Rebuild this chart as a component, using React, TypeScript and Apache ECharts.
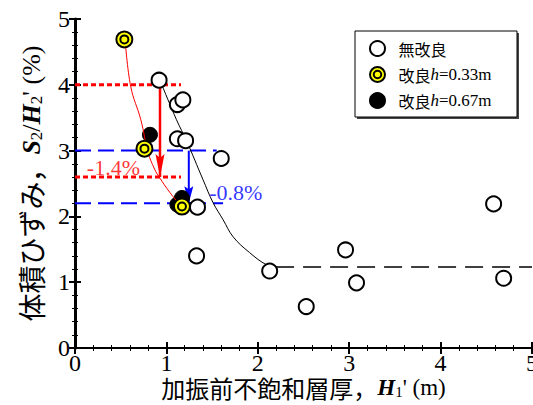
import React, { useEffect, useRef } from 'react';
import * as echarts from 'echarts';

// ---- data ----
const xTickLabels = ['0', '1', '2', '3', '4', '5'];
const yTickLabels = ['0', '1', '2', '3', '4', '5'];

const seriesNames = ['無改良', '改良h=0.33m', '改良h=0.67m'];

// 無改良 (open circles)
const openX = [0.92, 1.12, 1.18, 1.12, 1.21, 1.60, 1.34, 1.33, 2.13, 2.53, 2.96, 3.08, 4.58, 4.69];
const openY = [4.07, 3.70, 3.77, 3.18, 3.15, 2.88, 2.14, 1.40, 1.17, 0.63, 1.49, 0.99, 2.19, 1.06];

// 改良 h=0.33m (yellow)
const yellowX = [0.54, 0.76, 1.17];
const yellowY = [4.69, 3.03, 2.15];

// 改良 h=0.67m (black)
const blackX = [0.82, 1.17, 1.12];
const blackY = [3.24, 2.28, 2.18];

// red trend curve (改良)
const redCurveX = [0.55, 0.61, 0.72, 0.80, 0.87, 0.92, 1.04, 1.13, 1.17];
const redCurveY = [4.66, 3.97, 3.47, 2.97, 2.72, 2.60, 2.36, 2.21, 2.16];

// black trend curve (無改良)
const blackCurveX = [0.95, 1.11, 1.22, 1.40, 1.51, 1.62, 1.73, 1.91, 2.10, 2.20];
const blackCurveY = [4.00, 3.47, 3.15, 2.56, 2.21, 1.95, 1.69, 1.45, 1.26, 1.23];

// black dashed plateau
const plateauX = [2.2, 5.0];
const plateauY = [1.23, 1.23];

// red reference levels and arrow
const redLevels = [4.0, 2.6];
const redLevelEnd = 1.16;
const redArrowX = 0.93;

// blue reference levels and arrow
const blueLevels = [3.0, 2.2];
const blueLevelEnds = [1.55, 1.62];
const blueArrowX = 1.245;

// annotations
const annotations = [
  { text: '-1.4%', x: 0.42, y: 2.74, color: '#ff0000' },
  { text: '-0.8%', x: 1.76, y: 2.37, color: '#0000ff' },
];

const pts = (xs: number[], ys: number[]) => xs.map((x, i) => [x, ys[i]]);

const ringSymbol =
  'path://M8,0A8,8,0,1,1,8,16A8,8,0,1,1,8,0ZM8,4A4,4,0,1,1,8,12A4,4,0,1,1,8,4Z';
const downArrow = 'path://M0,0L5,4L10,0L5,22Z';

const SERIF = 'Liberation Serif';
const CJK = 'Noto Sans CJK JP';

export default function App() {
  const ref = useRef<HTMLDivElement>(null);

  useEffect(() => {
    if (!ref.current) return;
    const chart = echarts.init(ref.current, null, { renderer: 'svg' });

    const baseAxis = {
      type: 'value' as const,
      min: 0,
      max: 5,
      interval: 1,
      splitLine: { show: false },
      axisLine: { show: true, lineStyle: { color: '#000', width: 2 } },
      axisTick: { show: true, inside: true, length: 6, lineStyle: { color: '#000', width: 2 } },
      minorTick: { show: true, splitNumber: 5, length: 3, lineStyle: { color: '#000', width: 1 } },
      minorSplitLine: { show: false },
    };

    const hLine = (x0: number, x1: number, y: number, color: string, width: number, dash: number[]) => ({
      type: 'line',
      data: [[x0, y], [x1, y]],
      symbol: 'none',
      silent: true,
      lineStyle: { color, width, type: dash },
      z: 1,
    });

    const arrow = (x: number, y0: number, y1: number, color: string, w: number, size: number[]) => ({
      type: 'line',
      silent: true,
      z: 3,
      lineStyle: { color, width: w },
      itemStyle: { color },
      showSymbol: true,
      data: [
        { value: [x, y0], symbol: 'none' },
        { value: [x, y1], symbol: downArrow, symbolSize: size, symbolOffset: [0, -size[1] / 2] },
      ],
    });

    const option: any = {
      animation: false,
      backgroundColor: '#fff',
      grid: { left: 75, right: 1, top: 19, bottom: 57, outerBoundsMode: 'none', containLabel: false },
      xAxis: [
        {
          ...baseAxis,
          position: 'bottom',
          axisLabel: {
            color: '#000', fontFamily: SERIF, fontSize: 24, lineHeight: 20, margin: 5,
            formatter: (v: number) => xTickLabels[Math.round(v)],
          },
          name: "{c|加振前不飽和層厚，}{i|H}{s|1}{n|' (m)}",
          nameLocation: 'middle',
          nameGap: 27,
          nameMoveOverlap: false,
          nameTextStyle: {
            rich: {
              c: { fontFamily: CJK, fontSize: 24, lineHeight: 24, color: '#000' },
              i: { fontFamily: SERIF, fontSize: 23, lineHeight: 24, fontStyle: 'italic', fontWeight: 'bold', color: '#000' },
              s: { fontFamily: SERIF, fontSize: 15, lineHeight: 20, color: '#000', verticalAlign: 'bottom' },
              n: { fontFamily: SERIF, fontSize: 23, lineHeight: 24, color: '#000' },
            },
          },
        },
        { ...baseAxis, position: 'top', axisLabel: { show: false } },
      ],
      yAxis: [
        {
          ...baseAxis,
          position: 'left',
          axisLine: { show: true, lineStyle: { color: '#000', width: 3 } },
          axisLabel: {
            color: '#000', fontFamily: SERIF, fontSize: 24, margin: 5,
            formatter: (v: number) => yTickLabels[Math.round(v)],
          },
          name: "{c|体積ひずみ，}{i|S}{s|2}{n|/}{i|H}{s|2}{n|' (%)}",
          nameLocation: 'middle',
          nameGap: 30,
          nameTextStyle: {
            rich: {
              c: { fontFamily: CJK, fontSize: 28, color: '#000' },
              i: { fontFamily: SERIF, fontSize: 26, fontStyle: 'italic', fontWeight: 'bold', color: '#000' },
              s: { fontFamily: SERIF, fontSize: 17, color: '#000', verticalAlign: 'bottom' },
              n: { fontFamily: SERIF, fontSize: 26, color: '#000' },
            },
          },
        },
        { ...baseAxis, position: 'right', axisLabel: { show: false } },
      ],
      legend: {
        data: seriesNames,
        orient: 'vertical',
        left: 369,
        top: 40,
        itemGap: 9,
        itemWidth: 32,
        itemHeight: 15,
        padding: 0,
        selectedMode: false,
        formatter: (name: string) =>
          name === seriesNames[0]
            ? '{c|' + name + '}'
            : '{c|' + name.slice(0, 2) + '}{i|h}{n|' + name.slice(3) + '}',
        textStyle: {
          rich: {
            c: { fontFamily: CJK, fontSize: 16, color: '#000' },
            i: { fontFamily: SERIF, fontSize: 17, fontStyle: 'italic', color: '#000' },
            n: { fontFamily: SERIF, fontSize: 17, color: '#000' },
          },
        },
      },
      graphic: [
        { type: 'rect', z: 1, shape: { x: 357, y: 33, width: 162, height: 86 }, style: { fill: '#444' } },
        { type: 'rect', z: 2, shape: { x: 355, y: 31, width: 162, height: 86 }, style: { fill: '#fff', stroke: '#000', lineWidth: 1 } },
      ],
      series: [
        hLine(0, redLevelEnd, redLevels[0], '#ff0000', 3, [5, 3]),
        hLine(0, redLevelEnd, redLevels[1], '#ff0000', 3, [5, 3]),
        hLine(0, blueLevelEnds[0], blueLevels[0], '#0000ff', 2, [16, 7]),
        hLine(0, blueLevelEnds[1], blueLevels[1], '#0000ff', 2, [16, 7]),
        hLine(plateauX[0], plateauX[1], plateauY[0], '#000', 1.5, [18, 9]),
        {
          type: 'line', data: pts(blackCurveX, blackCurveY), smooth: 0.4, symbol: 'none', silent: true,
          lineStyle: { color: '#000', width: 1 }, z: 1,
        },
        {
          type: 'line', data: pts(redCurveX, redCurveY), smooth: 0.4, symbol: 'none', silent: true,
          lineStyle: { color: '#ff0000', width: 1 }, z: 4,
        },
        arrow(redArrowX, redLevels[0], redLevels[1], '#ff0000', 2.5, [9, 23]),
        arrow(blueArrowX, blueLevels[0], blueLevels[1], '#0000ff', 2, [9, 17]),
        {
          name: seriesNames[0], type: 'scatter', data: pts(openX, openY), symbol: 'circle', symbolSize: 15,
          itemStyle: { color: '#fff', borderColor: '#000', borderWidth: 2, opacity: 1 }, z: 3,
        },
        {
          name: seriesNames[2], type: 'scatter', data: pts(blackX, blackY), symbol: 'circle', symbolSize: 15,
          itemStyle: { color: '#000', borderColor: '#000', borderWidth: 1, opacity: 1 }, z: 3,
        },
        {
          name: seriesNames[1], type: 'scatter', data: pts(yellowX, yellowY), symbol: ringSymbol, symbolSize: 16,
          itemStyle: { color: '#ffff00', borderColor: '#000', borderWidth: 2, opacity: 1 }, z: 5,
        },
        ...annotations.map((a) => ({
          type: 'scatter', silent: true, data: [[a.x, a.y]], symbolSize: 1,
          itemStyle: { color: 'rgba(0,0,0,0)' }, z: 6,
          label: {
            show: true, position: 'inside', formatter: a.text, color: a.color,
            fontFamily: SERIF, fontSize: 22,
          },
        })),
      ],
    };

    chart.setOption(option);
    return () => chart.dispose();
  }, []);

  return (
    <div
      ref={ref}
      style={{ position: 'fixed', left: 0, top: 0, width: 533, height: 405, background: '#fff' }}
    />
  );
}
